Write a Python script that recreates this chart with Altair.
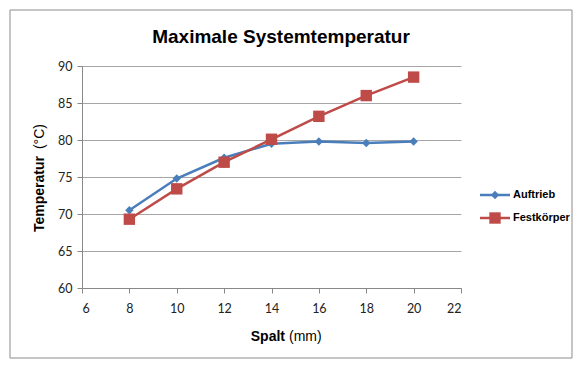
import altair as alt
import pandas as pd

spalt = [8, 10, 12, 14, 16, 18, 20]
auftrieb = [70.5, 74.8, 77.6, 79.5, 79.8, 79.6, 79.8]
festkoerper = [69.3, 73.4, 77.0, 80.1, 83.2, 86.0, 88.5]
series = ["Auftrieb", "Festkörper"]
colors = ["#4A7EBB", "#BE4B48"]
shapes = ["diamond", "square"]
x_ticks = [6, 8, 10, 12, 14, 16, 18, 20, 22]
y_ticks = [60, 65, 70, 75, 80, 85, 90]

rows = []
for s, vals in zip(series, [auftrieb, festkoerper]):
    for x, v in zip(spalt, vals):
        rows.append({"Spalt": x, "Temp": v, "Serie": s})
df = pd.DataFrame(rows)

W, H = 379, 222

xs = alt.X("Spalt:Q", scale=alt.Scale(domain=[6, 22], nice=False),
           axis=alt.Axis(values=x_ticks, title=None, grid=False, domainColor="#888888",
                         tickColor="#888888", tickSize=5, labelFont="Lato", labelFontSize=12.5,
                         labelColor="#222222", labelPadding=9, labelOverlap=False))
ys = alt.Y("Temp:Q", scale=alt.Scale(domain=[60, 90], nice=False),
           axis=alt.Axis(values=y_ticks, title=None, gridColor="#a6a6a6", gridWidth=1,
                         domainColor="#888888", tickColor="#888888", tickSize=5,
                         labelFont="Lato", labelFontSize=12.5, labelColor="#222222",
                         labelPadding=5, labelOverlap=False))
col = alt.Color("Serie:N", scale=alt.Scale(domain=series, range=colors), legend=None)
shp = alt.Shape("Serie:N", scale=alt.Scale(domain=series, range=shapes), legend=None)

lines = alt.Chart(df).mark_line(strokeWidth=2.5).encode(x=xs, y=ys, color=col, detail="Serie:N")
pts = alt.Chart(df).mark_point(filled=True, opacity=1).encode(
    x=xs, y=ys, color=col, shape=shp,
    size=alt.Size("Serie:N", scale=alt.Scale(domain=series, range=[70, 130]), legend=None))

# frame
frame = alt.Chart(pd.DataFrame({"a": [0]})).mark_rect(fill=None, stroke="#8c8c8c", strokeWidth=1).encode(
    x=alt.value(-72), x2=alt.value(490), y=alt.value(-56), y2=alt.value(292))

title = alt.Chart(pd.DataFrame({"t": ["Maximale Systemtemperatur"]})).mark_text(
    font="Liberation Sans", fontSize=19, fontWeight="bold", color="#000000", baseline="middle").encode(
    text="t:N", x=alt.value(199), y=alt.value(-29))

xtitle1 = alt.Chart(pd.DataFrame({"t": ["Spalt"]})).mark_text(
    font="Liberation Sans", fontSize=14, fontWeight="bold", align="right", baseline="middle").encode(
    text="t:N", x=alt.value(203), y=alt.value(271))
xtitle2 = alt.Chart(pd.DataFrame({"t": ["(mm)"]})).mark_text(
    font="Liberation Sans", fontSize=14, align="left", baseline="middle").encode(
    text="t:N", x=alt.value(207), y=alt.value(271))

ytitle1 = alt.Chart(pd.DataFrame({"t": ["Temperatur"]})).mark_text(
    font="Liberation Sans", fontSize=14, fontWeight="bold", align="left", baseline="middle", angle=270).encode(
    text="t:N", x=alt.value(-42), y=alt.value(166))
ytitle2 = alt.Chart(pd.DataFrame({"t": ["(°C)"]})).mark_text(
    font="Liberation Sans", fontSize=14, align="right", baseline="middle", angle=270).encode(
    text="t:N", x=alt.value(-42), y=alt.value(58))

leg = pd.DataFrame({"Serie": series, "yy": [129, 152]})
leg_line = alt.Chart(leg).mark_rule(strokeWidth=2.5).encode(
    x=alt.value(398), x2=alt.value(428), y=alt.Y("yy:Q", scale=None, axis=None), color=col)
leg_pt = alt.Chart(leg).mark_point(filled=True, opacity=1).encode(
    x=alt.value(413), y=alt.Y("yy:Q", scale=None, axis=None), color=col, shape=shp,
    size=alt.Size("Serie:N", scale=alt.Scale(domain=series, range=[50, 90]), legend=None))
leg_txt = alt.Chart(leg).mark_text(font="Liberation Sans", fontSize=11, fontWeight="bold",
                                   align="left", baseline="middle", color="#000000").encode(
    x=alt.value(431), y=alt.Y("yy:Q", scale=None, axis=None), text="Serie:N")

chart = alt.layer(frame, lines, pts, title, xtitle1, xtitle2, ytitle1, ytitle2,
                  leg_line, leg_pt, leg_txt).properties(
    width=W, height=H,
    autosize=alt.AutoSizeParams(type="none"),
    padding={"left": 74, "top": 58, "right": 112, "bottom": 72},
    background="white",
).configure_view(stroke=None)

chart.save("out.html", embed_options={"renderer": "svg", "actions": False})
